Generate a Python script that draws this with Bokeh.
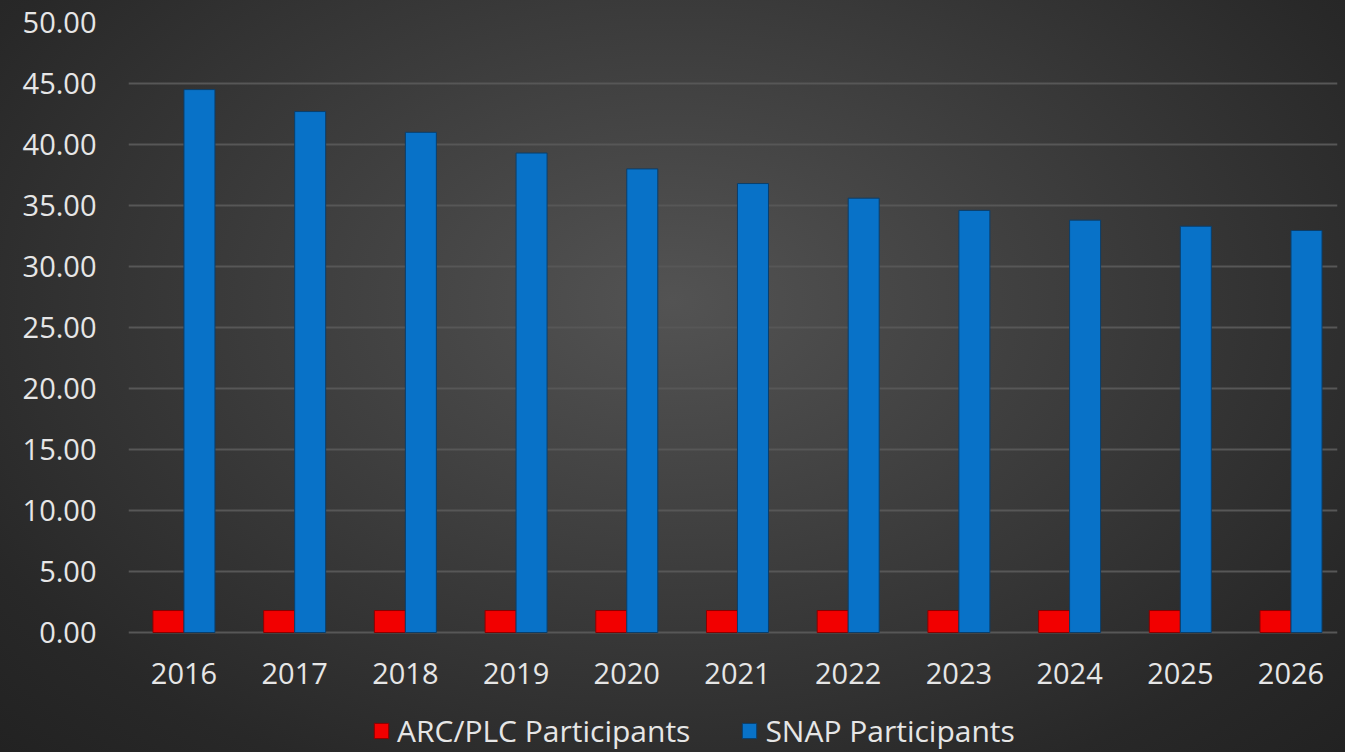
import numpy as np
from bokeh.plotting import figure
from bokeh.models import Range1d, FixedTicker, NumeralTickFormatter, Legend, LegendItem
from bokeh.core.properties import value
from bokeh.embed import file_html
from bokeh.resources import INLINE

years = ["2016", "2017", "2018", "2019", "2020", "2021", "2022", "2023", "2024", "2025", "2026"]
arc_plc = [1.8, 1.8, 1.8, 1.8, 1.8, 1.8, 1.8, 1.8, 1.8, 1.8, 1.8]
snap = [44.5, 42.7, 41.0, 39.3, 38.0, 36.8, 35.6, 34.6, 33.8, 33.3, 32.95]
y_ticks = [0, 5, 10, 15, 20, 25, 30, 35, 40, 45, 50]

x = np.arange(len(years))
FONT = "Open Sans"
TXT = "#e6e6e6"

p = figure(frame_width=1209, frame_height=730, output_backend="svg", toolbar_location=None,
           x_range=Range1d(-0.501, 10.42), y_range=Range1d(-9.836, 50),
           min_border_left=128, min_border_top=22, min_border_right=8, min_border_bottom=0)
p.styles = {"background": "radial-gradient(ellipse at 50% 40%, #535353 0%, #3e3e3e 40%, #282828 82%, #222222 100%)"}
p.background_fill_alpha = 0
p.border_fill_alpha = 0
p.outline_line_color = None

w = 0.28
r_arc = p.vbar(x=x - w / 2, top=arc_plc, width=w, bottom=0,
               fill_color="#f20000", line_color="#8a0000", line_width=1)
r_snap = p.vbar(x=x + w / 2, top=snap, width=w, bottom=0,
                fill_color="#0872c8", line_color="#0b3e6a", line_width=1)

# category labels under the baseline
p.text(x=x, y=[0] * len(years), text=years, y_offset=41,
       text_font=value(FONT), text_font_size="29px", text_color=TXT,
       text_align="center", text_baseline="middle")

p.xaxis.visible = False
p.yaxis.ticker = FixedTicker(ticks=y_ticks)
p.yaxis.formatter = NumeralTickFormatter(format="0.00")
ax = p.yaxis[0]
ax.major_label_text_font = FONT
ax.major_label_text_font_size = "29px"
ax.major_label_text_color = TXT
ax.major_tick_line_color = None
ax.minor_tick_line_color = None
ax.axis_line_color = None
ax.major_label_standoff = 26

p.xgrid.grid_line_color = None
p.ygrid.grid_line_color = "#575757"
p.ygrid.grid_line_width = 2

legend = Legend(items=[LegendItem(label="ARC/PLC Participants", renderers=[r_arc]),
                       LegendItem(label="SNAP Participants", renderers=[r_snap])],
                orientation="horizontal", location=(244, 1))
legend.label_text_font = FONT
legend.label_text_font_size = "30px"
legend.label_text_color = TXT
legend.background_fill_alpha = 0
legend.border_line_color = None
legend.glyph_width = 18
legend.glyph_height = 19
legend.label_standoff = 7
legend.spacing = 50
legend.margin = 0
legend.padding = 0
p.add_layout(legend, "center")

open("out.html", "w").write(file_html(p, INLINE))
